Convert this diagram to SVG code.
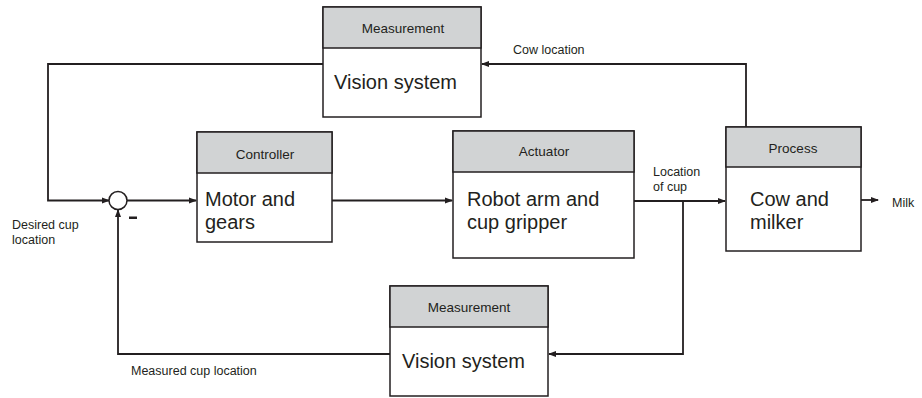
<svg xmlns="http://www.w3.org/2000/svg" width="922" height="398" viewBox="0 0 922 398">
<style>
.box{fill:#fff;stroke:#231f20;stroke-width:1.5}
.hdr{fill:#d1d3d4;stroke:#231f20;stroke-width:1.5}
.ht{font-family:"Liberation Sans",Arial,sans-serif;font-size:13.5px;fill:#231f20;text-anchor:middle}
.bt{font-family:"Liberation Sans",Arial,sans-serif;font-size:20px;fill:#231f20}
.lt{font-family:"Liberation Sans",Arial,sans-serif;font-size:12.5px;fill:#231f20}
.ln{fill:none;stroke:#231f20;stroke-width:1.8}
</style>
<defs>
<marker id="ah" markerWidth="8" markerHeight="8" refX="7" refY="4" orient="auto" markerUnits="userSpaceOnUse">
<path d="M0,1 L8,4 L0,7 Z" fill="#231f20"/>
</marker>
</defs>
<g id="connectors">
<path class="ln" d="M323,64 H48 V200.5 H109" marker-end="url(#ah)"/>
<path class="ln" d="M127,200.5 H196" marker-end="url(#ah)"/>
<path class="ln" d="M332,200.5 H452" marker-end="url(#ah)"/>
<path class="ln" d="M634,201 H725" marker-end="url(#ah)"/>
<path class="ln" d="M683,201 V354 H549" marker-end="url(#ah)"/>
<path class="ln" d="M746,127 V64 H482" marker-end="url(#ah)"/>
<path class="ln" d="M861,200 H878" marker-end="url(#ah)"/>
<path class="ln" d="M390,354 H118 V210" marker-end="url(#ah)"/>
<text class="lt" x="513" y="54">Cow location</text>
<text class="lt" x="653" y="176">Location</text>
<text class="lt" x="653" y="191">of cup</text>
<text class="lt" x="892" y="207">Milk</text>
<text class="lt" x="12" y="229">Desired cup</text>
<text class="lt" x="12" y="244">location</text>
<text class="lt" x="131" y="375">Measured cup location</text>
</g>
<g id="sum">
<circle cx="118" cy="200.5" r="9" fill="#fff" stroke="#231f20" stroke-width="1.5"/>
<rect x="129" y="216.5" width="8" height="2.5" fill="#231f20"/>
</g>
<g id="measurement-top">
<rect class="box" x="323" y="7" width="158" height="110"/>
<rect class="hdr" x="323" y="7" width="158" height="41"/>
<text class="ht" x="403" y="33">Measurement</text>
<text class="bt" x="334" y="89">Vision system</text>
</g>
<g id="controller">
<rect class="box" x="197" y="132" width="135" height="110"/>
<rect class="hdr" x="197" y="132" width="135" height="41"/>
<text class="ht" x="265" y="159">Controller</text>
<text class="bt" x="205" y="206">Motor and</text>
<text class="bt" x="205" y="229">gears</text>
</g>
<g id="actuator">
<rect class="box" x="453" y="131" width="181" height="127"/>
<rect class="hdr" x="453" y="131" width="181" height="41"/>
<text class="ht" x="544" y="156">Actuator</text>
<text class="bt" x="467" y="206">Robot arm and</text>
<text class="bt" x="467" y="229">cup gripper</text>
</g>
<g id="process">
<rect class="box" x="726" y="127" width="135" height="124"/>
<rect class="hdr" x="726" y="127" width="135" height="40"/>
<text class="ht" x="793" y="152.5">Process</text>
<text class="bt" x="750" y="206">Cow and</text>
<text class="bt" x="750" y="229">milker</text>
</g>
<g id="measurement-bottom">
<rect class="box" x="390" y="286" width="158" height="110"/>
<rect class="hdr" x="390" y="286" width="158" height="41"/>
<text class="ht" x="469" y="311.5">Measurement</text>
<text class="bt" x="402" y="368">Vision system</text>
</g>
</svg>
